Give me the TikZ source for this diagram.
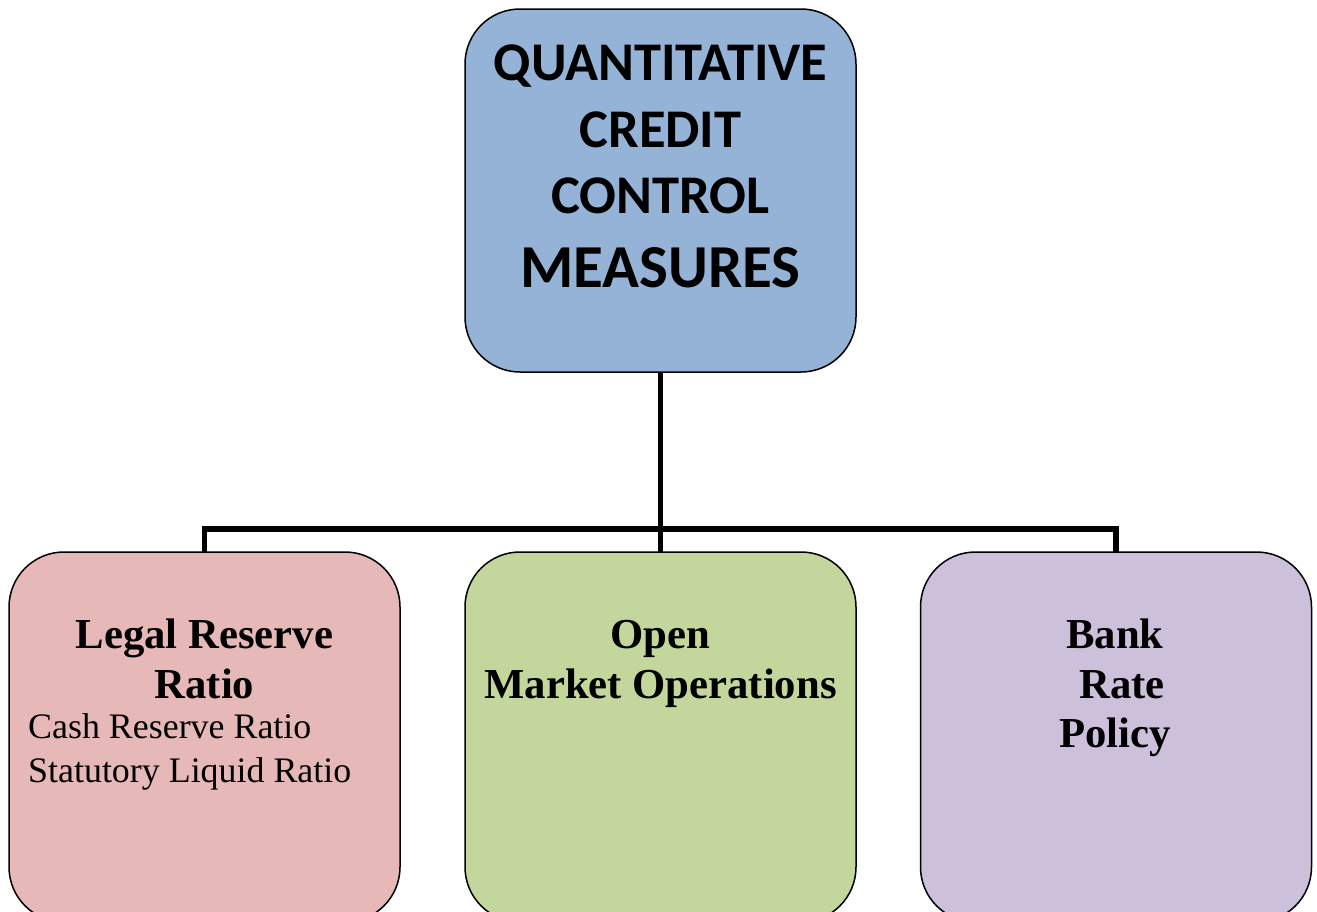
\documentclass[tikz,border=0pt]{standalone}
\usepackage{fontspec}
\setmainfont{Liberation Serif}
\newfontfamily\headfont{Carlito}
\definecolor{topblue}{HTML}{95B3D7}
\definecolor{boxpink}{HTML}{E6B9B8}
\definecolor{boxgreen}{HTML}{C3D69B}
\definecolor{boxlilac}{HTML}{CCC0DA}
\tikzset{
  panel/.style={draw=black, line width=1.5pt, rounded corners=55pt,
    inner sep=0pt, outer sep=0pt, minimum width=391pt},
  link/.style={draw=black, line width=5.3pt, line join=miter},
  headtxt/.style={anchor=base, inner sep=0pt, font=\headfont\bfseries\fontsize{54.5}{60}\selectfont},
  boldtxt/.style={anchor=base, inner sep=0pt, font=\bfseries\fontsize{42.7}{48}\selectfont},
  plaintxt/.style={anchor=base west, inner sep=0pt, font=\fontsize{35.9}{40}\selectfont},
}
\begin{document}
\begin{tikzpicture}[x=1pt, y=-1pt]
\useasboundingbox (0,0) rectangle (1317,911);

% boxes
\node[panel, fill=topblue, minimum height=363pt] (top) at (660.5,190.5) {};
\node[panel, fill=boxpink, minimum height=370pt] (left) at (204.5,737) {};
\node[panel, fill=boxgreen, minimum height=370pt] (mid) at (660.5,737) {};
\node[panel, fill=boxlilac, minimum height=370pt] (right) at (1116,737) {};

% connectors
\coordinate (bus) at (660.5,529);
\draw[link] (top.south) -- (mid.north);
\draw[link] (left.north) |- (bus) -| (right.north);

% title
\node[headtxt] (t1) at (660.5,80) {QUANTITATIVE};
\node[headtxt] (t2) at (660.5,147) {CREDIT};
\node[headtxt] (t3) at (660.5,213) {CONTROL};
\node[headtxt, font=\headfont\bfseries\fontsize{61}{68}\selectfont] (t4) at (660.5,287) {MEASURES};

% left box
\node[boldtxt] (l1) at (204.5,648) {Legal Reserve};
\node[boldtxt] (l2) at (204.5,698) {Ratio};
\node[plaintxt] (l3) at (28,738) {Cash Reserve Ratio};
\node[plaintxt] (l4) at (28,782) {Statutory Liquid Ratio};

% middle box
\node[boldtxt] (m1) at (660.5,648) {Open};
\node[boldtxt] (m2) at (660.5,698) {Market Operations};

% right box
\node[boldtxt] (r1) at (1115,648) {Bank};
\node[boldtxt] (r2) at (1122,698) {Rate};
\node[boldtxt] (r3) at (1115,747) {Policy};
\end{tikzpicture}
\end{document}
